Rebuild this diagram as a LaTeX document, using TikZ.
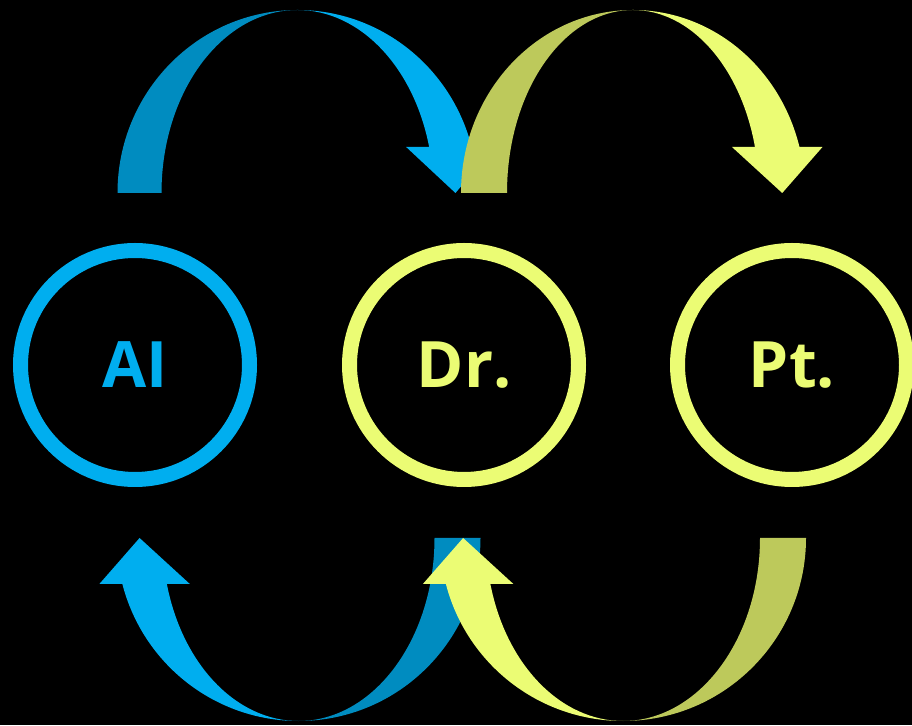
\documentclass[tikz,border=0pt]{standalone}
\usepackage{fontspec}
\setmainfont{Open Sans}
\usetikzlibrary{calc}
\definecolor{blueL}{HTML}{00AEEF}
\definecolor{blueD}{HTML}{008CC0}
\definecolor{limeL}{HTML}{EBFC74}
\definecolor{limeD}{HTML}{BDC95B}
\tikzset{
    ring/.style =   {circle,
                    draw=#1,
                    text=#1,
                    line width=15pt,
                    inner sep=0pt,
                    minimum size=229pt,
                    font=\fontsize{64}{64}\selectfont\bfseries},
    >=stealth}
% fat arc over the top: dark half on the left, arrow on the right
\newcommand{\overarc}[5]{%
    \fill[#4] ($(#1)+(-#2,0)$) arc[start angle=180,end angle=90,x radius=#2,y radius=183]
        arc[start angle=90,end angle=180,x radius=#3,y radius=183] -- cycle;
    \fill[#5] ($(#1)+(0,183)$) arc[start angle=90,end angle=14.56,x radius=#2,y radius=183]
        -- ++(23,0) -- ($(#1)+({(#2+#3)/2*0.968+5},0)$)
        -- ($(#1)+({#3*0.968-23},46)$) -- ($(#1)+({#3*0.968},46)$)
        arc[start angle=14.56,end angle=90,x radius=#3,y radius=183] -- cycle;}
% fat arc underneath: dark half on the right, arrow on the left
\newcommand{\underarc}[5]{%
    \fill[#4] ($(#1)+(#2,0)$) arc[start angle=0,end angle=-90,x radius=#2,y radius=183]
        arc[start angle=-90,end angle=0,x radius=#3,y radius=183] -- cycle;
    \fill[#5] ($(#1)+(0,-183)$) arc[start angle=-90,end angle=-165.44,x radius=#2,y radius=183]
        -- ++(-23,0) -- ($(#1)+({-(#2+#3)/2*0.968-5},0)$)
        -- ($(#1)+({-#3*0.968+23},-46)$) -- ($(#1)+({-#3*0.968},-46)$)
        arc[start angle=-165.44,end angle=-90,x radius=#3,y radius=183] -- cycle;}
\begin{document}
\begin{tikzpicture}[x=1pt,y=1pt]
    \fill[black] (0,0) rectangle (912,725);
    \useasboundingbox (0,0) rectangle (912,725);
    \node[ring=blueL]   (AI) at (135,360)   {AI};
    \node[ring=limeL]   (Dr) at (464,360)   {Dr.};
    \node[ring=limeL]   (Pt) at (792,360)   {Pt.};
    \coordinate (AItoDr) at ($(AI)!0.5!(Dr)+(-2,172)$);
    \coordinate (DrtoPt) at ($(Dr)!0.5!(Pt)+(5,172)$);
    \coordinate (DrtoAI) at ($(AI)!0.5!(Dr)+(-1,-173)$);
    \coordinate (PttoDr) at ($(Dr)!0.5!(Pt)+(-5,-173)$);
    \overarc{AItoDr}{180}{136}{blueD}{blueL}
    \underarc{DrtoAI}{182}{136}{blueD}{blueL}
    \overarc{DrtoPt}{172}{126}{limeD}{limeL}
    \underarc{PttoDr}{183}{137}{limeD}{limeL}
\end{tikzpicture}
\end{document}
